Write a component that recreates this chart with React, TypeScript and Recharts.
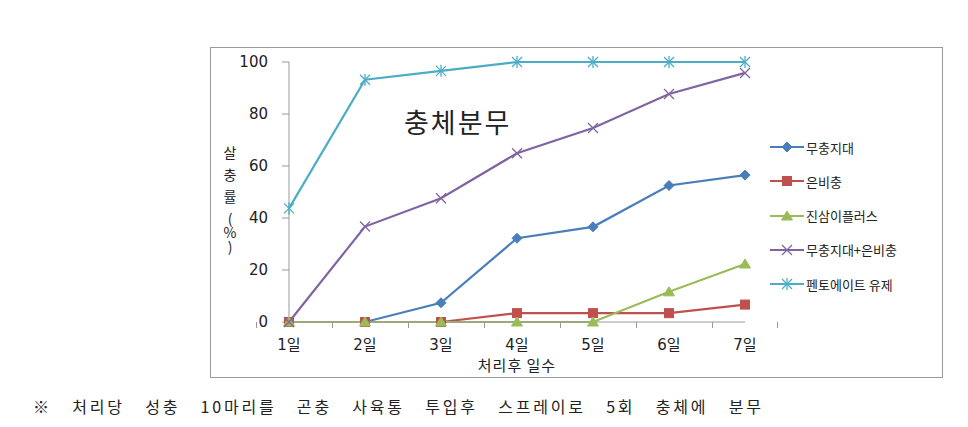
import React from 'react';
import { LineChart, Line, XAxis, YAxis } from 'recharts';

const days = ['1일', '2일', '3일', '4일', '5일', '6일', '7일'];
const yTicks = [0, 20, 40, 60, 80, 100];

const seriesNames = ['무충지대', '은비충', '진삼이플러스', '무충지대+은비충', '펜토에이트 유제'];
const seriesColors = ['#4A7EBB', '#C0504D', '#9BBB59', '#8064A2', '#4BACC6'];
const seriesMarkers = ['diamond', 'square', 'triangle', 'x', 'star'];

const muchung = [0, 0, 7.4, 32.2, 36.6, 52.5, 56.5];
const eunbi = [0, 0, 0, 3.4, 3.4, 3.4, 6.7];
const jinsam = [0, 0, 0, 0, 0, 11.6, 22.3];
const combo = [0, 36.7, 47.6, 64.9, 74.6, 87.7, 95.8];
const pento = [43.7, 93.2, 96.6, 100, 100, 100, 100];

const seriesValues = [muchung, eunbi, jinsam, combo, pento];

const data = days.map((d, i) => {
  const row: any = { day: d };
  seriesValues.forEach((vals, s) => {
    row['s' + s] = vals[i];
  });
  return row;
});

const KFONT = "'Noto Sans CJK KR', 'DejaVu Sans', sans-serif";
const NFONT = "'DejaVu Sans', 'Noto Sans CJK KR', sans-serif";

function Marker({ type, cx, cy, color }: { type: string; cx: number; cy: number; color: string }) {
  if (cx == null || cy == null) return null;
  const r = 5;
  switch (type) {
    case 'diamond':
      return <path d={`M${cx},${cy - r} L${cx + r},${cy} L${cx},${cy + r} L${cx - r},${cy} Z`} fill={color} stroke={color} />;
    case 'square':
      return <rect x={cx - 4.5} y={cy - 4.5} width={9} height={9} fill={color} stroke={color} />;
    case 'triangle':
      return <path d={`M${cx},${cy - 5} L${cx + 5.5},${cy + 4} L${cx - 5.5},${cy + 4} Z`} fill={color} stroke={color} />;
    case 'x':
      return (
        <g stroke={color} strokeWidth={1.3}>
          <line x1={cx - 5} y1={cy - 5} x2={cx + 5} y2={cy + 5} />
          <line x1={cx - 5} y1={cy + 5} x2={cx + 5} y2={cy - 5} />
        </g>
      );
    case 'star':
      return (
        <g stroke={color} strokeWidth={1.3}>
          <line x1={cx - 5} y1={cy - 5} x2={cx + 5} y2={cy + 5} />
          <line x1={cx - 5} y1={cy + 5} x2={cx + 5} y2={cy - 5} />
          <line x1={cx} y1={cy - 6} x2={cx} y2={cy + 6} />
        </g>
      );
    default:
      return null;
  }
}

const XTick = (props: any) => {
  const { x, y, payload, index } = props;
  const half = payload && payload.offset ? payload.offset : 32.5;
  return (
    <g>
      <line x1={x - half} y1={y} x2={x - half} y2={y + 6} stroke="#999" />
      {index === days.length - 1 && <line x1={x + half} y1={y} x2={x + half} y2={y + 6} stroke="#999" />}
      <text x={x} y={y + 28} textAnchor="middle" fontSize={15} fill="#222" fontFamily={NFONT}>
        {payload.value}
      </text>
    </g>
  );
};

const LegendBox = () => (
  <div style={{ position: 'absolute', left: 770, top: 137, width: 170, height: 170, fontFamily: KFONT, fontSize: 13, color: '#222' }}>
    {seriesNames.map((n, i) => (
      <div key={n} style={{ position: 'absolute', left: 0, top: i * 34.3, height: 20, display: 'flex', alignItems: 'center', whiteSpace: 'nowrap' }}>
        <svg width={36} height={20}>
          <line x1={0} y1={10} x2={34} y2={10} stroke={seriesColors[i]} strokeWidth={2} />
          <Marker type={seriesMarkers[i]} cx={17} cy={10} color={seriesColors[i]} />
        </svg>
        <span>{n}</span>
      </div>
    ))}
  </div>
);

export default function App() {
  return (
    <div style={{ position: 'absolute', left: 0, top: 0, width: 968, height: 427, background: '#fff', fontFamily: KFONT }}>
      <div style={{ position: 'absolute', left: 210, top: 47, width: 733, height: 331, border: '1px solid #9a9a9a', boxSizing: 'border-box' }} />
      <div style={{ position: 'absolute', left: 0, top: 0 }}>
        <LineChart width={968} height={427} data={data} margin={{ top: 62, left: 249, right: 223, bottom: 75 }}>
          <XAxis
            dataKey="day"
            axisLine={{ stroke: '#999' }}
            tickLine={false}
            tickSize={0}
            tickMargin={0}
            height={30}
            tick={<XTick />}
            interval={0}
          />
          <YAxis
            domain={[0, 100]}
            ticks={yTicks}
            width={40}
            axisLine={{ stroke: '#999' }}
            tickLine={{ stroke: '#999' }}
            tickSize={7}
            tickMargin={14}
            tick={{ fontSize: 15, fill: '#222', fontFamily: NFONT }}
            interval={0}
          />
          {seriesNames.map((n, i) => (
            <Line
              key={n}
              dataKey={'s' + i}
              name={n}
              stroke={seriesColors[i]}
              strokeWidth={2.2}
              isAnimationActive={false}
              dot={(p: any) => <Marker key={'d' + i + '-' + p.index} type={seriesMarkers[i]} cx={p.cx} cy={p.cy} color={seriesColors[i]} />}
              activeDot={false}
            />
          ))}
        </LineChart>
      </div>
      <LegendBox />
      <div style={{ position: 'absolute', left: 404, top: 104, fontSize: 27, color: '#222', fontFamily: KFONT, whiteSpace: 'nowrap', lineHeight: '36px', letterSpacing: 2 }}>충체분무</div>
      <div style={{ position: 'absolute', left: 517, top: 357, transform: 'translateX(-50%)', fontSize: 15, color: '#222', whiteSpace: 'nowrap', lineHeight: '16px', letterSpacing: 1 }}>처리후 일수</div>
      <div style={{ position: 'absolute', left: 220, top: 146, fontSize: 14, color: '#222', writingMode: 'vertical-rl', textOrientation: 'upright', lineHeight: '20px', whiteSpace: 'nowrap' }}>
        <span style={{ letterSpacing: 8 }}>살충률</span>
        <span style={{ letterSpacing: 0 }}>(%)</span>
      </div>
      <div style={{ position: 'absolute', left: 33, top: 394, fontSize: 16, color: '#222', whiteSpace: 'nowrap', lineHeight: '24px', letterSpacing: 2.8, wordSpacing: 14 }}>
        ※ 처리당 성충 10마리를 곤충 사육통 투입후 스프레이로 5회 충체에 분무
      </div>
    </div>
  );
}
